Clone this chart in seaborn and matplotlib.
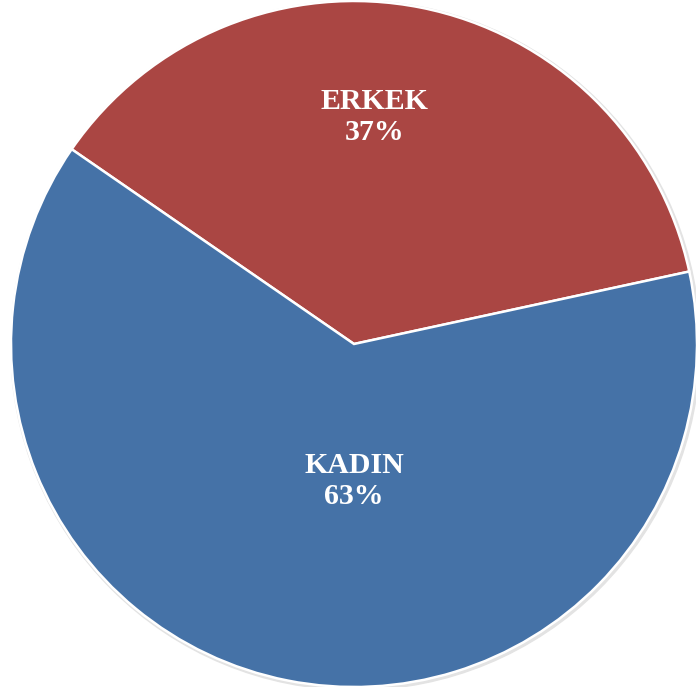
import numpy as np
import matplotlib
matplotlib.use("Agg")
import matplotlib.pyplot as plt
import seaborn as sns

sns.set_style("white")
plt.rcParams['font.family'] = ['Liberation Serif', 'DejaVu Serif']

# data
categories = ['ERKEK', 'KADIN']
shares = [37, 63]
colors = ['#AA4643', '#4572A7']

fig = plt.figure(figsize=(6.96, 6.97), dpi=100)
ax = fig.add_axes([11 / 696, (697 - 344 - 343) / 697, 686 / 696, 686 / 697])

# faint shadow behind the pie
ax.add_patch(plt.Circle((0.004, -0.004), 1.005, color='#e3e3e3', zorder=0))

wedges, _ = ax.pie(shares, colors=colors, startangle=12.2, counterclock=True,
                   radius=1.0, wedgeprops=dict(edgecolor='white', linewidth=1.8))

# label placement (radius, angle shift from wedge middle)
label_style = [(0.665, 6.0), (0.40, 11.2)]
for w, name, val, (r, shift) in zip(wedges, categories, shares, label_style):
    mid = np.deg2rad((w.theta1 + w.theta2) / 2 + shift)
    x, y = r * np.cos(mid), r * np.sin(mid)
    ax.text(x, y, f'{name}\n{val}%', ha='center', va='center', color='white',
            fontsize=21.5, fontweight='bold', linespacing=1.2,
            family='Liberation Serif')

ax.set_xlim(-1, 1)
ax.set_ylim(-1, 1)
ax.set_aspect('auto')
ax.axis('off')

fig.savefig('out.png', dpi=100)
